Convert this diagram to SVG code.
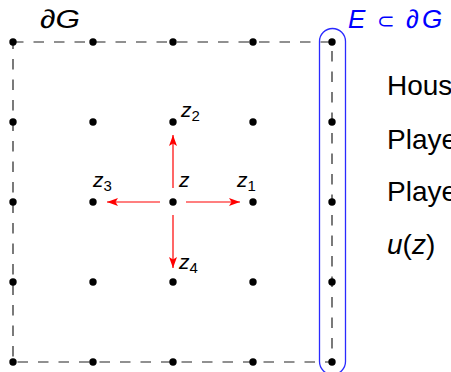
<svg xmlns="http://www.w3.org/2000/svg" width="451" height="372" viewBox="0 0 451 372">
<defs>
<style>
.dot{fill:#000}
.edge{fill:none;stroke:#222;stroke-width:1.2;stroke-dasharray:10.5 10}
.arr{stroke:#ff0000;stroke-width:1.2;fill:none;marker-end:url(#ah)}
.lbl{font-family:"Liberation Sans",Arial,sans-serif;font-style:italic;font-size:21px;fill:#000}
.sub{font-size:15px;font-style:normal}
.txt{font-family:"Liberation Sans",Arial,sans-serif;font-size:28px;fill:#000}
.big{font-family:"Liberation Sans","DejaVu Sans",sans-serif;font-style:italic;font-size:26px}
</style>
<marker id="ah" viewBox="0 0 11 8" refX="11" refY="4" markerWidth="11" markerHeight="8" markerUnits="userSpaceOnUse" orient="auto">
<path d="M0,0 L11,4 L0,8 L2.5,4 Z" fill="#ff0000"/>
</marker>
</defs>
<rect id="boundary" x="13" y="42" width="319" height="320" class="edge"/>
<rect id="E" x="319.5" y="28.5" width="26" height="346" rx="13" ry="13" fill="none" stroke="#2a2aff" stroke-width="1.3"/>
<g id="nodes">
<g id="row1"><circle class="dot" cx="13" cy="42" r="3.7"/><circle class="dot" cx="93" cy="42" r="3.7"/><circle class="dot" cx="173" cy="42" r="3.7"/><circle class="dot" cx="253" cy="42" r="3.7"/><circle class="dot" cx="332" cy="42" r="3.7"/></g>
<g id="row2"><circle class="dot" cx="13" cy="122" r="3.7"/><circle class="dot" cx="93" cy="122" r="3.7"/><circle class="dot" cx="173" cy="122" r="3.7"/><circle class="dot" cx="253" cy="122" r="3.7"/><circle class="dot" cx="332" cy="122" r="3.7"/></g>
<g id="row3"><circle class="dot" cx="13" cy="202" r="3.7"/><circle class="dot" cx="93" cy="202" r="3.7"/><circle class="dot" cx="173" cy="202" r="3.7"/><circle class="dot" cx="253" cy="202" r="3.7"/><circle class="dot" cx="332" cy="202" r="3.7"/></g>
<g id="row4"><circle class="dot" cx="13" cy="282" r="3.7"/><circle class="dot" cx="93" cy="282" r="3.7"/><circle class="dot" cx="173" cy="282" r="3.7"/><circle class="dot" cx="253" cy="282" r="3.7"/><circle class="dot" cx="332" cy="282" r="3.7"/></g>
<g id="row5"><circle class="dot" cx="13" cy="362" r="3.7"/><circle class="dot" cx="93" cy="362" r="3.7"/><circle class="dot" cx="173" cy="362" r="3.7"/><circle class="dot" cx="253" cy="362" r="3.7"/><circle class="dot" cx="332" cy="362" r="3.7"/></g>
</g>
<g id="connectors">
<line class="arr" x1="173" y1="188" x2="173" y2="135"/>
<line class="arr" x1="186" y1="202" x2="240" y2="202"/>
<line class="arr" x1="160" y1="202" x2="107" y2="202"/>
<line class="arr" x1="173" y1="215" x2="173" y2="268"/>
</g>
<g id="labels">
<text class="lbl" x="179" y="187">z</text>
<text class="lbl" x="237" y="187">z<tspan class="sub" dy="4">1</tspan></text>
<text class="lbl" x="181" y="117">z<tspan class="sub" dy="4">2</tspan></text>
<text class="lbl" x="93" y="187">z<tspan class="sub" dy="4">3</tspan></text>
<text class="lbl" x="179" y="269">z<tspan class="sub" dy="4">4</tspan></text>
<text class="big" x="40" y="28" font-size="25" textLength="40" lengthAdjust="spacingAndGlyphs">∂G</text>
<text class="big" x="348" y="28" fill="#0000ff"><tspan x="348">E</tspan><tspan x="377" font-style="normal" font-family="DejaVu Sans,sans-serif" font-size="21">⊂</tspan><tspan x="406">∂</tspan><tspan x="422">G</tspan></text>
<text class="txt" x="387" y="95">Hous</text>
<text class="txt" x="387" y="149">Playe</text>
<text class="txt" x="387" y="201">Playe</text>
<text class="txt" x="387" y="254"><tspan font-style="italic">u</tspan>(<tspan font-style="italic">z</tspan>)</text>
</g>
</svg>
